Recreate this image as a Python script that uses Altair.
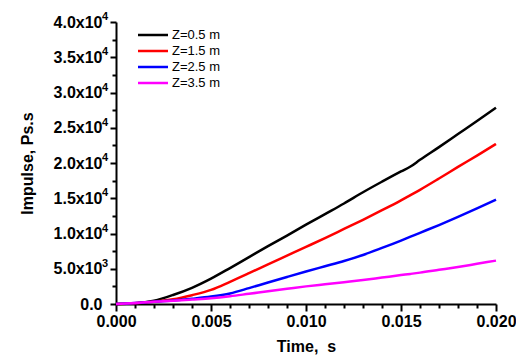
import altair as alt
import pandas as pd

times = [0, 0.001, 0.002, 0.003, 0.004, 0.005, 0.006, 0.007, 0.008, 0.009, 0.010,
         0.011, 0.012, 0.013, 0.014, 0.015, 0.0155, 0.016, 0.017, 0.018, 0.019, 0.020]
z05 = [0, 100, 470, 1280, 2300, 3600, 5100, 6650, 8200, 9700, 11250,
       12750, 14250, 15850, 17350, 18800, 19500, 20450, 22250, 24100, 25950, 27850]
z15 = [0, 120, 330, 660, 1250, 2000, 3150, 4370, 5620, 6860, 8100,
       9350, 10650, 11950, 13300, 14700, 15450, 16200, 17800, 19450, 21050, 22700]
z25 = [0, 130, 320, 500, 750, 1050, 1500, 2250, 3050, 3830, 4600,
       5350, 6100, 6950, 7950, 9000, 9550, 10100, 11200, 12350, 13550, 14800]
z35 = [0, 140, 310, 470, 640, 820, 1100, 1450, 1800, 2150, 2500,
       2800, 3100, 3400, 3750, 4100, 4270, 4450, 4850, 5250, 5700, 6150]

series_names = ["Z=0.5 m", "Z=1.5 m", "Z=2.5 m", "Z=3.5 m"]
series_colors = ["#000000", "#ff0000", "#0000ff", "#ff00ff"]
series_values = [z05, z15, z25, z35]

x_ticks = [round(i * 0.001, 3) for i in range(21)]
y_ticks = [i * 2500 for i in range(17)]

# exponents of the y tick labels (label = mantissa x 10^exponent)
exp_values = [5000, 10000, 15000, 20000, 25000, 30000, 35000, 40000]
exp_texts = ["3", "4", "4", "4", "4", "4", "4", "4"]

rows = []
for name, vals in zip(series_names, series_values):
    for t, v in zip(times, vals):
        rows.append({"t": t, "v": v, "series": name})
df = pd.DataFrame(rows)
exp_df = pd.DataFrame({"v": exp_values, "e": exp_texts})

FONT = "Liberation Sans"

x_label_expr = ("abs(round(datum.value*1000)) % 5 == 0 ? format(datum.value, '.3f') : ''")
y_label_expr = ("datum.value == 0 ? '0.0' : (datum.value % 5000 != 0 ? '' : "
                "(datum.value < 10000 ? format(datum.value/1000, '.1f') + 'x10' : "
                "format(datum.value/10000, '.1f') + 'x10'))")

y_scale = alt.Scale(domain=[0, 40000], nice=False)
y_axis = alt.Axis(values=y_ticks, labelExpr=y_label_expr, title="Impulse, Ps.s",
                  tickSize={"condition": {"test": "datum.value % 5000 == 0", "value": 6}, "value": 4},
                  labelPadding=8, titlePadding=18, labelOverlap=False, labelFlush=False,
                  labelFontSize=16, labelFontWeight="bold", titleFontSize=16)

lines = alt.Chart(df).mark_line(strokeWidth=2.5, interpolate="monotone").encode(
    x=alt.X("t:Q", scale=alt.Scale(domain=[0, 0.02], nice=False),
            axis=alt.Axis(values=x_ticks, labelExpr=x_label_expr, title="Time,\u00a0 s",
                          tickSize={"condition": {"test": "abs(round(datum.value*1000)) % 5 == 0", "value": 7}, "value": 4},
                          labelPadding=2, titlePadding=9, labelOverlap=False, labelFlush=False,
                          labelFontSize=16, labelFontWeight="bold", titleFontSize=16)),
    y=alt.Y("v:Q", scale=y_scale, axis=y_axis),
    color=alt.Color("series:N", scale=alt.Scale(domain=series_names, range=series_colors),
                    legend=alt.Legend(title=None, orient="none", legendX=28, legendY=4,
                                      symbolType="M-2,0H2", symbolSize=225, symbolStrokeWidth=2.5,
                                      labelFontSize=13, labelFont=FONT, labelOffset=10,
                                      rowPadding=0, padding=0)),
)

exps = alt.Chart(exp_df).mark_text(
    align="left", baseline="middle", font=FONT, fontSize=11, fontWeight="bold",
    color="black", dx=-14, dy=-5,
).encode(
    y=alt.Y("v:Q", scale=y_scale, axis=y_axis),
    x=alt.value(0),
    text="e:N",
)

chart = alt.layer(lines, exps).properties(
    width=380, height=282,
    autosize=alt.AutoSizeParams(type="none"),
    padding={"left": 108, "top": 14, "right": 20, "bottom": 56},
).configure_view(stroke=None).configure_axis(
    grid=False, domainColor="black", domainWidth=2, tickColor="black", tickWidth=2,
    labelColor="black", titleColor="black", labelFont=FONT, titleFont=FONT,
    titleFontWeight="bold",
)

chart.save("out.html", embed_options={"renderer": "svg", "actions": False})
